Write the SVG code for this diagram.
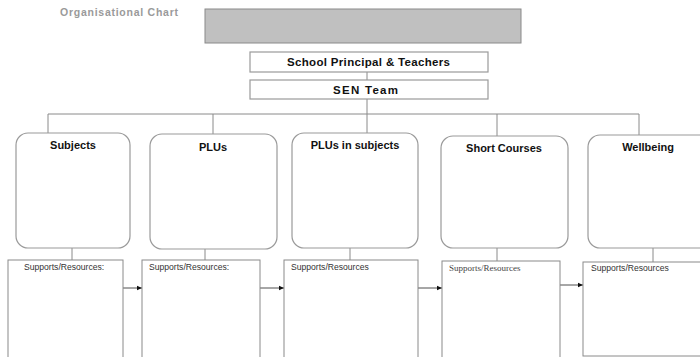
<svg xmlns="http://www.w3.org/2000/svg" width="700" height="357" viewBox="0 0 700 357">
<style>
.ln{stroke:#8a8a8a;stroke-width:1;fill:none}
.box{fill:#fff;stroke:#9a9a9a;stroke-width:1.2}
.rbox{fill:#fff;stroke:#9a9a9a;stroke-width:1.2}
.sbox{fill:#fff;stroke:#8a8a8a;stroke-width:1}
.t{font-family:"Liberation Sans",Arial,sans-serif;font-weight:bold;font-size:11px;fill:#111;text-anchor:middle}
.h{font-family:"Liberation Sans",Arial,sans-serif;font-weight:bold;font-size:11.5px;fill:#111}
.s{font-family:"Liberation Sans",Arial,sans-serif;font-size:8.6px;fill:#333}
.sf{font-family:"Liberation Serif","Times New Roman",serif;font-size:9px;fill:#444}
.arr{stroke:#222;stroke-width:0.8;fill:none;marker-end:url(#ah)}
</style>
<defs>
<marker id="ah" markerWidth="6" markerHeight="6" refX="5" refY="3" orient="auto" markerUnits="userSpaceOnUse">
<path d="M0,0.8 L5,3 L0,5.2 Z" fill="#111"/>
</marker>
</defs>
<rect width="700" height="357" fill="#fff"/>
<text x="60" y="16" font-family="Liberation Sans,Arial,sans-serif" font-weight="bold" font-size="10.5" fill="#9a9a9a" textLength="118" lengthAdjust="spacing">Organisational Chart</text>
<g id="header"><rect x="205" y="9" width="316" height="34" fill="#c0c0c0" stroke="#8a8a8a" stroke-width="1"/></g>
<g id="connectors">
<line class="ln" x1="367" y1="72" x2="367" y2="80"/>
<line class="ln" x1="367" y1="99" x2="367" y2="114"/>
<line class="ln" x1="48" y1="114" x2="639" y2="114"/>
<line class="ln" x1="48" y1="114" x2="48" y2="133"/>
<line class="ln" x1="213" y1="114" x2="213" y2="134"/>
<line class="ln" x1="367" y1="114" x2="367" y2="133"/>
<line class="ln" x1="497" y1="114" x2="497" y2="136"/>
<line class="ln" x1="639" y1="114" x2="639" y2="135"/>
<line class="ln" x1="72" y1="248" x2="72" y2="260"/>
<line class="ln" x1="205" y1="249" x2="205" y2="260"/>
<line class="ln" x1="350" y1="248" x2="350" y2="260"/>
<line class="ln" x1="497" y1="248" x2="497" y2="261"/>
<line class="ln" x1="653" y1="248" x2="653" y2="262"/>
<line class="arr" x1="123" y1="288" x2="142" y2="288"/>
<line class="arr" x1="260" y1="288" x2="284" y2="288"/>
<line class="arr" x1="418" y1="288" x2="442" y2="288"/>
<line class="arr" x1="560" y1="285" x2="583" y2="285"/>
</g>
<g id="principal"><rect class="box" x="250" y="52" width="238" height="20"/><text class="h" x="287" y="66" textLength="163" lengthAdjust="spacing">School Principal &amp; Teachers</text></g>
<g id="sen"><rect class="box" x="250" y="80" width="238" height="19"/><text class="h" x="333" y="93.5" textLength="65" lengthAdjust="spacing">SEN Team</text></g>
<g id="subjects"><rect class="rbox" x="16" y="133" width="114" height="115" rx="12"/><text class="t" x="73" y="149">Subjects</text></g>
<g id="plus"><rect class="rbox" x="150" y="134" width="127" height="115" rx="12"/><text class="t" x="213" y="151">PLUs</text></g>
<g id="plus-subjects"><rect class="rbox" x="292" y="133" width="126" height="115" rx="12"/><text class="t" x="355" y="149">PLUs in subjects</text></g>
<g id="short-courses"><rect class="rbox" x="441" y="136" width="127" height="112" rx="12"/><text class="t" x="504" y="152">Short Courses</text></g>
<g id="wellbeing"><rect class="rbox" x="588" y="135" width="125" height="113" rx="12"/><text class="t" x="648" y="151" font-size="11.5">Wellbeing</text></g>
<g id="sup-subjects"><rect class="sbox" x="8" y="260" width="115" height="110"/><text class="s" x="24" y="270">Supports/Resources:</text></g>
<g id="sup-plus"><rect class="sbox" x="142" y="260" width="118" height="110"/><text class="s" x="149" y="270">Supports/Resources:</text></g>
<g id="sup-plus-subjects"><rect class="sbox" x="284" y="260" width="134" height="110"/><text class="s" x="291" y="270">Supports/Resources</text></g>
<g id="sup-short"><rect class="sbox" x="442" y="261" width="118" height="110"/><text class="sf" x="449" y="271">Supports/Resources</text></g>
<g id="sup-wellbeing"><rect class="sbox" x="583" y="262" width="130" height="94"/><text class="s" x="591" y="271">Supports/Resources</text></g>
</svg>
